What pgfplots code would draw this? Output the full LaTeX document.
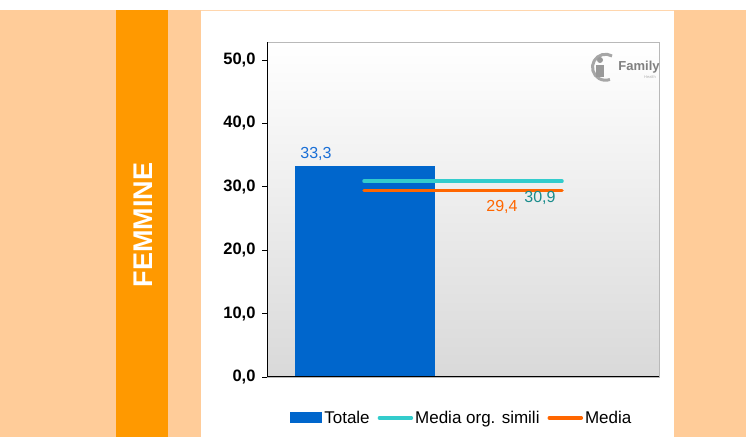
\documentclass[border=0pt]{standalone}
\usepackage{pgfplots}
\pgfplotsset{compat=1.18}
\usepackage{fontspec}
\setmainfont{Liberation Sans}
\definecolor{peach}{HTML}{FFCC99}
\definecolor{bandor}{HTML}{FF9900}
\definecolor{barblue}{HTML}{0066CC}
\definecolor{lblue}{HTML}{1A6FD6}
\definecolor{cyanl}{HTML}{33CCCC}
\definecolor{tealt}{HTML}{1A8C8C}
\definecolor{orl}{HTML}{FF6600}
\definecolor{bggray}{HTML}{D9D9D9}
\begin{document}
\begin{tikzpicture}[x=1bp,y=1bp]
\fill[white] (0,0) rectangle (746,437);
\fill[peach] (0,0) rectangle (746,427);
\fill[bandor] (116,0) rectangle (168,427);
\fill[white] (201,0) rectangle (674,427);
\draw[peach!80, line width=1bp] (201,426.5) -- (674,426.5);
\node[rotate=90, text=white, font=\fontsize{27bp}{30bp}\selectfont\bfseries] at (143,212) {FEMMINE};
\begin{axis}[
  at={(267bp,60bp)}, anchor=south west,
  scale only axis, width=392bp, height=335bp,
  xmin=0, xmax=392, ymin=0, ymax=52.84,
  xtick=\empty,
  ytick={0,10,20,30,40,50},
  ytick pos=left, tick align=outside, major tick length=5bp,
  tick style={black, line width=0.8bp},
  yticklabel style={font=\fontsize{16.5bp}{19bp}\selectfont\bfseries, xshift=-3bp, /pgf/number format/.cd, fixed, fixed zerofill, precision=1, use comma, assume math mode=true},
  axis line style={draw=gray!55, line width=0.8bp},
  axis background/.style={shade, top color=white, bottom color=bggray},
  legend style={at={(0.497,-0.122)}, anchor=center, draw=none, fill=none,
    font=\fontsize{17bp}{20bp}\selectfont, legend columns=3,
    /tikz/every even column/.append style={column sep=6bp}},
  legend cell align=left,
]
\addplot[ybar, bar width=140, fill=barblue, draw=none,
  legend image code/.code={\fill[barblue] (0bp,-5.5bp) rectangle (32bp,5.5bp);}]
  coordinates {(98,33.3)};
\addlegendentry{Totale}
\addplot[cyanl, line width=3.5bp, line cap=round,
  legend image code/.code={\draw[cyanl, line width=3.5bp, line cap=round] (0bp,0bp) -- (32bp,0bp);}]
  coordinates {(97,30.9) (295,30.9)};
\addlegendentry{Media org. simili}
\addplot[orl, line width=3.5bp, line cap=round,
  legend image code/.code={\draw[orl, line width=3.5bp, line cap=round] (0bp,0bp) -- (32bp,0bp);}]
  coordinates {(97,29.4) (295,29.4)};
\addlegendentry{Media}
\draw[black, line width=1bp] (rel axis cs:0,0) -- (rel axis cs:0,1);
\draw[black, line width=1bp] (rel axis cs:0,0) -- (rel axis cs:1,0);
\node[text=lblue, font=\fontsize{16bp}{19bp}\selectfont] at (axis cs:49,35.2) {33,3};
\node[text=tealt, font=\fontsize{16bp}{19bp}\selectfont] at (axis cs:273,28.2) {30,9};
\node[text=orl, font=\fontsize{16bp}{19bp}\selectfont] at (axis cs:235,26.8) {29,4};
\end{axis}
% logo
\draw[gray!70, line width=3bp] (612,381) arc (60:290:13);
\node[text=gray, font=\fontsize{13bp}{15bp}\selectfont\bfseries] at (639,370) {Family};
\node[text=gray!60, font=\fontsize{4bp}{5bp}\selectfont] at (650,360) {Health};
\fill[gray!80] (596,372) rectangle (604,360);
\fill[gray!80] (600,377) circle (3);
\end{tikzpicture}
\end{document}
